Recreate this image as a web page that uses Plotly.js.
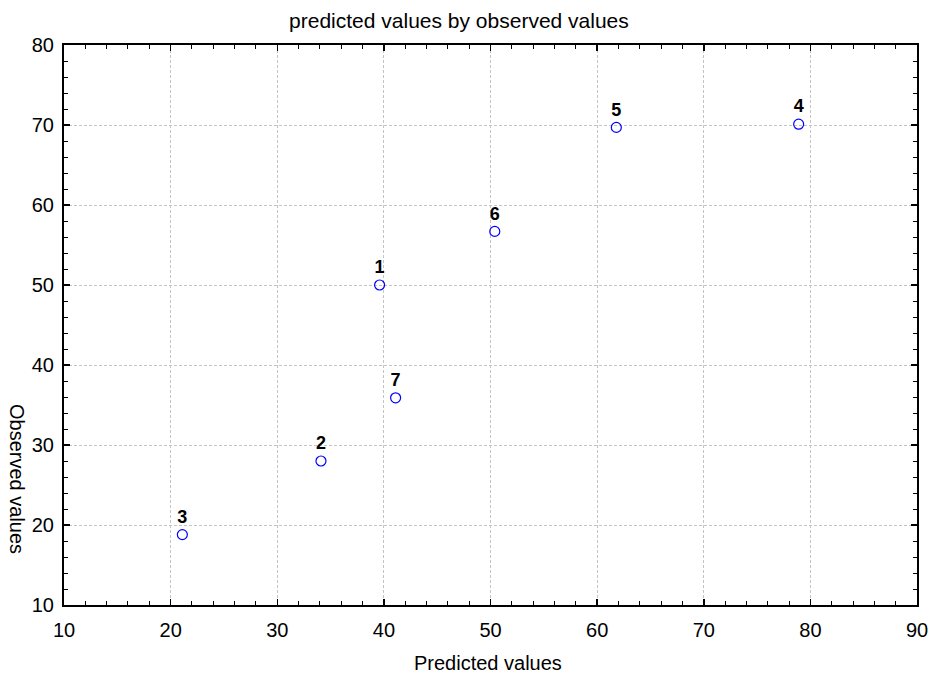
<!DOCTYPE html>
<html>
<head>
<meta charset="utf-8">
<script src="https://cdn.plot.ly/plotly-3.0.1.min.js"></script>
<style>html,body{margin:0;padding:0;background:#fff;}#chart{width:930px;height:677px;}</style>
</head>
<body>
<div id="chart"></div>
<script>
const caseLabels = ["1", "2", "3", "4", "5", "6", "7"];
const predicted = [39.6, 34.1, 21.1, 78.9, 61.8, 50.4, 41.1];
const observed = [50.0, 28.0, 18.8, 70.1, 69.7, 56.7, 35.9];
const xTicks = [10, 20, 30, 40, 50, 60, 70, 80, 90];
const yTicks = [10, 20, 30, 40, 50, 60, 70, 80];

const FONT = "Liberation Sans, Arial, sans-serif";

const trace = {
  x: predicted,
  y: observed,
  text: caseLabels,
  mode: "markers+text",
  type: "scatter",
  textposition: "top center",
  textfont: {family: FONT, size: 18, color: "#000", weight: "bold"},
  marker: {symbol: "circle-open", size: 10, color: "#0000ff", line: {width: 1.2, color: "#0000ff"}},
  cliponaxis: false,
  hoverinfo: "none"
};

const axisCommon = {
  showline: true, linecolor: "#000", linewidth: 2, mirror: "ticks",
  ticks: "inside", ticklen: 6, tickwidth: 1.5, tickcolor: "#000",
  showgrid: true, gridcolor: "#c4c4c4", griddash: "3px,2px", gridwidth: 1,
  zeroline: false,
  tickfont: {family: FONT, size: 20, color: "#000"},
  minor: {ticks: "inside", ticklen: 4, tickwidth: 1, tickcolor: "#000", dtick: 2, showgrid: false}
};

const layout = {
  width: 930, height: 677,
  margin: {l: 64, r: 13, t: 45, b: 72},
  paper_bgcolor: "#fff", plot_bgcolor: "#fff",
  showlegend: false,
  title: {text: "predicted values by observed values", x: 0.463, xref: "paper", y: 0.970, yref: "container",
    xanchor: "center", yanchor: "middle",
    font: {family: FONT, size: 21, color: "#000"}},
  xaxis: Object.assign({}, axisCommon, {range: [10, 90], tickvals: xTicks, ticktext: xTicks.map(String), ticklabelstandoff: 6}),
  yaxis: Object.assign({}, axisCommon, {range: [10, 80], tickvals: yTicks, ticktext: yTicks.map(String), ticklabelstandoff: 4}),
  annotations: [
    {text: "Predicted values", xref: "paper", yref: "paper", x: 0.497, y: 0, yshift: -58, showarrow: false,
      xanchor: "center", yanchor: "middle", font: {family: FONT, size: 20, color: "#000"}},
    {text: "Observed values", xref: "paper", yref: "paper", x: 0, xshift: -47, y: 0.225, showarrow: false, textangle: 90,
      xanchor: "center", yanchor: "middle", font: {family: FONT, size: 20, color: "#000"}}
  ]
};

Plotly.newPlot("chart", [trace], layout, {staticPlot: true, displayModeBar: false});
</script>
</body>
</html>
